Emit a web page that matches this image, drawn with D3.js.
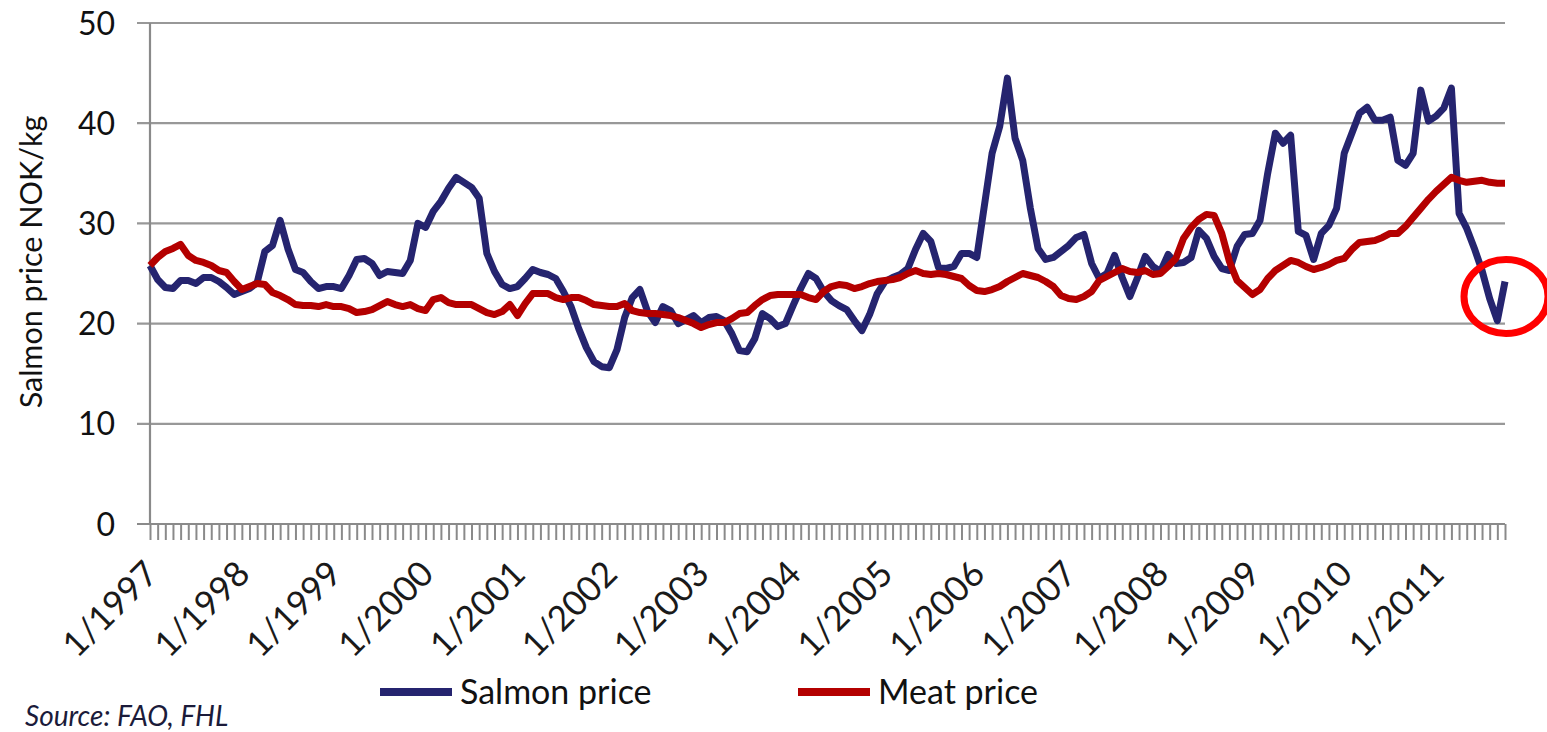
<!DOCTYPE html>
<html>
<head>
<meta charset="utf-8">
<script src="https://cdn.jsdelivr.net/npm/d3@7"></script>
<style>
  body { margin: 0; background: #fff; }
  svg { display: block; font-family: Lato, "Open Sans", sans-serif; }
</style>
</head>
<body>
<svg id="vis" width="1547" height="732"></svg>
<script>
// monthly prices, 1/1997 .. 10/2011 (NOK/kg)
var salmon = [
  25.8, 24.4, 23.6, 23.5, 24.3, 24.3, 24.0, 24.6, 24.6, 24.2, 23.6, 22.9,
  23.2, 23.5, 24.1, 27.2, 27.8, 30.3, 27.5, 25.4, 25.1, 24.2, 23.5, 23.7,
  23.7, 23.5, 24.8, 26.4, 26.5, 26.0, 24.8, 25.2, 25.1, 25.0, 26.3, 30.0,
  29.6, 31.2, 32.2, 33.5, 34.6, 34.1, 33.6, 32.5, 27.0, 25.2, 23.9, 23.5,
  23.7, 24.5, 25.4, 25.1, 24.9, 24.5, 23.2, 21.7, 19.5, 17.6, 16.2, 15.7,
  15.6, 17.4, 20.6, 22.6, 23.4, 21.2, 20.1, 21.7, 21.3, 20.0, 20.4, 20.8,
  20.1, 20.6, 20.7, 20.3, 19.0, 17.3, 17.2, 18.5, 21.0, 20.5, 19.7, 20.0,
  21.8, 23.5, 25.0, 24.5, 23.2, 22.3, 21.8, 21.4, 20.3, 19.3, 20.9, 23.0,
  24.2, 24.6, 24.9, 25.5, 27.4, 29.0, 28.2, 25.6, 25.5, 25.7, 27.0, 27.0,
  26.6, 31.8, 37.0, 39.7, 44.5, 38.5, 36.3, 31.5, 27.5, 26.4, 26.6, 27.2,
  27.8, 28.6, 28.9, 26.0, 24.5, 25.0, 26.8, 24.6, 22.7, 24.6, 26.7, 25.7,
  25.2, 26.9, 26.0, 26.1, 26.6, 29.3, 28.5, 26.7, 25.5, 25.3, 27.7, 28.9,
  29.0, 30.3, 35.0, 39.0, 38.0, 38.8, 29.2, 28.8, 26.4, 29.0, 29.8, 31.5,
  37.0, 39.0, 41.0, 41.6, 40.3, 40.3, 40.6, 36.3, 35.8, 37.0, 43.3, 40.2,
  40.7, 41.5, 43.5, 31.0, 29.5, 27.5, 25.3, 22.5, 20.3, 24.2
];
var meat = [
  25.8, 26.6, 27.2, 27.5, 27.9, 26.8, 26.3, 26.1, 25.8, 25.3, 25.1, 24.2,
  23.4, 23.7, 24.0, 23.9, 23.1, 22.8, 22.4, 21.9, 21.8, 21.8, 21.7, 21.9,
  21.7, 21.7, 21.5, 21.1, 21.2, 21.4, 21.8, 22.2, 21.9, 21.7, 21.9, 21.5,
  21.3, 22.4, 22.6, 22.1, 21.9, 21.9, 21.9, 21.5, 21.1, 20.9, 21.2, 21.9,
  20.8, 22.0, 23.0, 23.0, 23.0, 22.6, 22.4, 22.6, 22.6, 22.3, 21.9, 21.8,
  21.7, 21.7, 22.0, 21.3, 21.1, 21.0, 21.0, 20.9, 20.8, 20.6, 20.3, 20.0,
  19.6, 19.9, 20.1, 20.1, 20.5, 21.0, 21.1, 21.8, 22.4, 22.8, 22.9, 22.9,
  22.9, 22.9, 22.6, 22.4, 23.2, 23.7, 23.9, 23.8, 23.5, 23.7, 24.0, 24.2,
  24.3, 24.4, 24.6, 25.0, 25.3, 25.0, 24.9, 25.0, 24.9, 24.7, 24.5, 23.8,
  23.3, 23.2, 23.4, 23.7, 24.2, 24.6, 25.0, 24.8, 24.6, 24.2, 23.7, 22.8,
  22.5, 22.4, 22.7, 23.2, 24.3, 24.7, 25.1, 25.5, 25.2, 25.1, 25.3, 24.9,
  25.0, 25.7, 26.5, 28.5, 29.6, 30.4, 30.9, 30.8, 29.0, 26.2, 24.3, 23.6,
  22.9, 23.4, 24.5, 25.3, 25.8, 26.3, 26.1, 25.7, 25.4, 25.6, 25.9, 26.3,
  26.5, 27.4, 28.1, 28.2, 28.3, 28.6, 29.0, 29.0, 29.7, 30.6, 31.5, 32.4,
  33.2, 33.9, 34.6, 34.3, 34.1, 34.2, 34.3, 34.1, 34.0, 34.0
];
var years = [1997, 1998, 1999, 2000, 2001, 2002, 2003, 2004, 2005, 2006, 2007, 2008, 2009, 2010, 2011];
var yTicks = [0, 10, 20, 30, 40, 50];

var months = salmon.map(function(d, i) {
    return (i % 12 + 1) + "/" + (1997 + Math.floor(i / 12));
});

var plot = { left: 150, right: 1505, top: 23, bottom: 524 };
var grey = "#989898";

var svg = d3.select("#vis");

var x = d3.scalePoint()
    .domain(months)
    .range([plot.left, plot.right]);

var y = d3.scaleLinear()
    .domain([0, 50])
    .range([plot.bottom, plot.top]);

// gridlines
svg.append("g")
    .selectAll("line")
    .data(yTicks)
    .enter()
    .append("line")
    .attr("x1", plot.left - 13)
    .attr("x2", plot.right)
    .attr("y1", d => y(d))
    .attr("y2", d => y(d))
    .attr("stroke", grey)
    .attr("stroke-width", 2.2);

// y axis line
svg.append("line")
    .attr("x1", plot.left).attr("x2", plot.left)
    .attr("y1", y(50)).attr("y2", y(0))
    .attr("stroke", "#8a8a8a")
    .attr("stroke-width", 2.2);

// y labels
svg.append("g")
    .selectAll("text")
    .data(yTicks)
    .enter()
    .append("text")
    .attr("x", 115)
    .attr("y", d => y(d))
    .attr("dy", "0.36em")
    .attr("text-anchor", "end")
    .attr("font-size", 32)
    .attr("fill", "#111")
    .text(d => d);

svg.append("text")
    .attr("transform", "translate(42," + 262 + ") rotate(-90)")
    .attr("text-anchor", "middle")
    .attr("font-size", 30.5)
    .attr("fill", "#111")
    .text("Salmon price NOK/kg");

// x axis with monthly ticks
var xAxis = d3.axisBottom(x)
    .tickSize(16)
    .tickFormat("");

var xg = svg.append("g")
    .attr("transform", "translate(0," + plot.bottom + ")")
    .call(xAxis);
xg.select(".domain").remove();
xg.selectAll(".tick line")
    .attr("stroke", "#8a8a8a")
    .attr("stroke-width", 2);

svg.append("line")
    .attr("x1", plot.left - 13).attr("x2", plot.right)
    .attr("y1", plot.bottom).attr("y2", plot.bottom)
    .attr("stroke", "#8a8a8a")
    .attr("stroke-width", 2.2);

// year labels
svg.append("g")
    .selectAll("text")
    .data(years)
    .enter()
    .append("text")
    .attr("transform", d => "translate(" + (x("1/" + d) + 10) + ",576) rotate(-45)")
    .attr("text-anchor", "end")
    .attr("font-size", 35)
    .attr("fill", "#1a1a1a")
    .text(d => "1/" + d);

// lines
var line = function(values) {
    return d3.line()
        .x((d, i) => x(months[i]))
        .y(d => y(d))(values);
};

svg.append("path")
    .attr("d", line(salmon))
    .attr("fill", "none")
    .attr("stroke", "#25246f")
    .attr("stroke-width", 7)
    .attr("stroke-linejoin", "round");

svg.append("path")
    .attr("d", line(meat))
    .attr("fill", "none")
    .attr("stroke", "#b40000")
    .attr("stroke-width", 7)
    .attr("stroke-linejoin", "round");

// red ring round the last salmon price
var last = months[months.length - 1];
svg.append("ellipse")
    .attr("cx", x(last) + 1)
    .attr("cy", y(22.7))
    .attr("rx", 42)
    .attr("ry", 37)
    .attr("fill", "none")
    .attr("stroke", "#ff0000")
    .attr("stroke-width", 7);

// legend
var legend = [
    { name: "Salmon price", color: "#25246f", x: 380 },
    { name: "Meat price", color: "#b40000", x: 798 }
];
var lg = svg.append("g")
    .selectAll("g")
    .data(legend)
    .enter()
    .append("g")
    .attr("transform", d => "translate(" + d.x + ",692)");
lg.append("line")
    .attr("x1", 0).attr("x2", 72)
    .attr("stroke", d => d.color)
    .attr("stroke-width", 8);
lg.append("text")
    .attr("x", 80)
    .attr("dy", "0.36em")
    .attr("font-size", 34)
    .attr("fill", "#111")
    .text(d => d.name);

svg.append("text")
    .attr("x", 25)
    .attr("y", 726)
    .attr("font-size", 28)
    .attr("font-style", "italic")
    .attr("fill", "#1b1b3a")
    .text("Source: FAO, FHL");
</script>
</body>
</html>
